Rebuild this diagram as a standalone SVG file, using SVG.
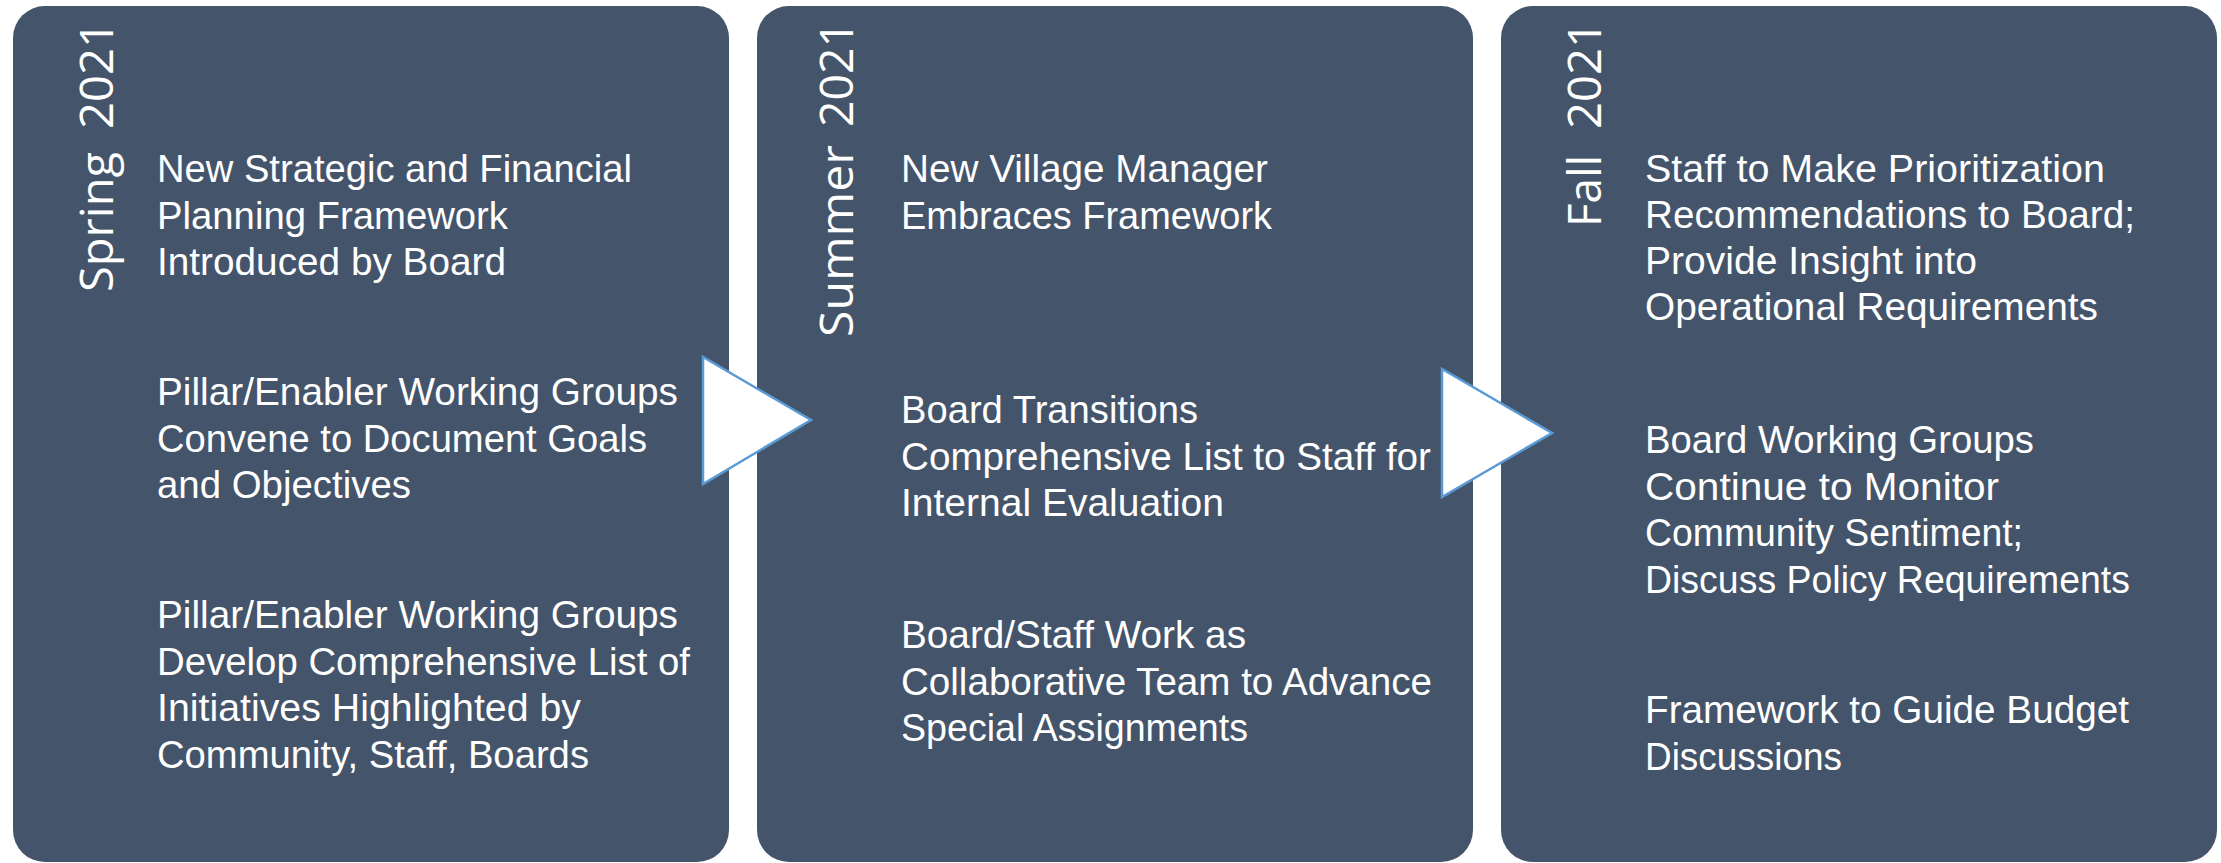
<svg xmlns="http://www.w3.org/2000/svg" width="2221" height="863" viewBox="0 0 2221 863">
<defs>
<style>
.panel{fill:#44546A;}
.body{font-family:"Liberation Sans",Arial,sans-serif;font-size:39px;fill:#FFFFFF;}
.season{font-family:"Open Sans","Noto Sans",sans-serif;font-size:46px;fill:#FFFFFF;text-anchor:end;}
.arrow{fill:#FFFFFF;stroke:#5B9BD5;stroke-width:2.5;stroke-linejoin:miter;}
</style>
</defs>
<rect width="2221" height="863" fill="#FFFFFF"/>

<g id="panel-spring">
<rect class="panel" x="13" y="6" width="716" height="856" rx="32" ry="32"/>
<g transform="translate(113,0)">
<text class="season" transform="translate(0,21) rotate(-90)" textLength="108" lengthAdjust="spacingAndGlyphs">2021</text>
<text class="season" transform="translate(0,152) rotate(-90)" textLength="140" lengthAdjust="spacingAndGlyphs">Spring</text>
</g>
<text class="body" x="157" y="182" textLength="475" lengthAdjust="spacingAndGlyphs">New Strategic and Financial</text>
<text class="body" x="157" y="228.5" textLength="351" lengthAdjust="spacingAndGlyphs">Planning Framework</text>
<text class="body" x="157" y="275" textLength="349" lengthAdjust="spacingAndGlyphs">Introduced by Board</text>
<text class="body" x="157" y="405" textLength="521" lengthAdjust="spacingAndGlyphs">Pillar/Enabler Working Groups</text>
<text class="body" x="157" y="451.5" textLength="490" lengthAdjust="spacingAndGlyphs">Convene to Document Goals</text>
<text class="body" x="157" y="498" textLength="254" lengthAdjust="spacingAndGlyphs">and Objectives</text>
<text class="body" x="157" y="628" textLength="521" lengthAdjust="spacingAndGlyphs">Pillar/Enabler Working Groups</text>
<text class="body" x="157" y="674.5" textLength="533" lengthAdjust="spacingAndGlyphs">Develop Comprehensive List of</text>
<text class="body" x="157" y="721" textLength="424" lengthAdjust="spacingAndGlyphs">Initiatives Highlighted by</text>
<text class="body" x="157" y="767.5" textLength="432" lengthAdjust="spacingAndGlyphs">Community, Staff, Boards</text>
</g>

<g id="panel-summer">
<rect class="panel" x="757" y="6" width="716" height="856" rx="32" ry="32"/>
<g transform="translate(853,0)">
<text class="season" transform="translate(0,21) rotate(-90)" textLength="106" lengthAdjust="spacingAndGlyphs">2021</text>
<text class="season" transform="translate(0,145) rotate(-90)" textLength="192" lengthAdjust="spacingAndGlyphs">Summer</text>
</g>
<text class="body" x="901" y="182" textLength="367" lengthAdjust="spacingAndGlyphs">New Village Manager</text>
<text class="body" x="901" y="228.5" textLength="371" lengthAdjust="spacingAndGlyphs">Embraces Framework</text>
<text class="body" x="901" y="423" textLength="297" lengthAdjust="spacingAndGlyphs">Board Transitions</text>
<text class="body" x="901" y="469.5" textLength="530" lengthAdjust="spacingAndGlyphs">Comprehensive List to Staff for</text>
<text class="body" x="901" y="516" textLength="323" lengthAdjust="spacingAndGlyphs">Internal Evaluation</text>
<text class="body" x="901" y="648" textLength="345" lengthAdjust="spacingAndGlyphs">Board/Staff Work as</text>
<text class="body" x="901" y="694.5" textLength="531" lengthAdjust="spacingAndGlyphs">Collaborative Team to Advance</text>
<text class="body" x="901" y="741" textLength="347" lengthAdjust="spacingAndGlyphs">Special Assignments</text>
</g>

<g id="panel-fall">
<rect class="panel" x="1501" y="6" width="716" height="856" rx="32" ry="32"/>
<g transform="translate(1601,0)">
<text class="season" transform="translate(0,21) rotate(-90)" textLength="108" lengthAdjust="spacingAndGlyphs">2021</text>
<text class="season" transform="translate(0,155) rotate(-90)" textLength="72" lengthAdjust="spacingAndGlyphs">Fall</text>
</g>
<text class="body" x="1645" y="182" textLength="460" lengthAdjust="spacingAndGlyphs">Staff to Make Prioritization</text>
<text class="body" x="1645" y="228" textLength="490" lengthAdjust="spacingAndGlyphs">Recommendations to Board;</text>
<text class="body" x="1645" y="274" textLength="332" lengthAdjust="spacingAndGlyphs">Provide Insight into</text>
<text class="body" x="1645" y="320" textLength="453" lengthAdjust="spacingAndGlyphs">Operational Requirements</text>
<text class="body" x="1645" y="453" textLength="389" lengthAdjust="spacingAndGlyphs">Board Working Groups</text>
<text class="body" x="1645" y="499.5" textLength="354" lengthAdjust="spacingAndGlyphs">Continue to Monitor</text>
<text class="body" x="1645" y="546" textLength="378" lengthAdjust="spacingAndGlyphs">Community Sentiment;</text>
<text class="body" x="1645" y="592.5" textLength="485" lengthAdjust="spacingAndGlyphs">Discuss Policy Requirements</text>
<text class="body" x="1645" y="723" textLength="484" lengthAdjust="spacingAndGlyphs">Framework to Guide Budget</text>
<text class="body" x="1645" y="769.5" textLength="197" lengthAdjust="spacingAndGlyphs">Discussions</text>
</g>

<g id="connectors">
<polygon class="arrow" points="703,357 703,484 811,420"/>
<polygon class="arrow" points="1442,369 1442,497 1552,433"/>
</g>
</svg>
